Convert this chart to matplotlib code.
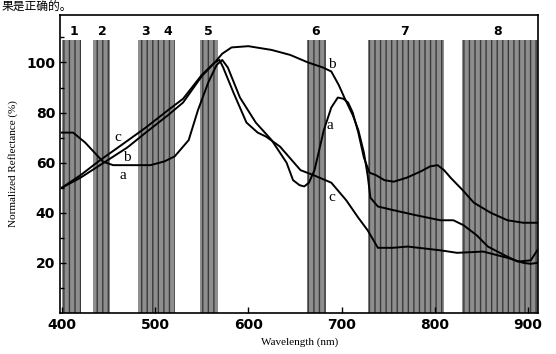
import matplotlib
matplotlib.use("Agg")
import matplotlib.pyplot as plt

# Curve data (wavelength nm, normalized reflectance %)
a_x = [400, 412, 425, 444, 455, 470, 495, 510, 521, 536, 546, 557, 566, 572, 578, 591, 608, 625, 641, 648, 655, 660, 665, 671, 681, 689, 696, 702, 707, 712, 718, 724, 730, 737, 746, 756, 770, 785, 795, 803, 810, 817, 830, 842, 860, 878, 895, 910]
a_y = [72, 72, 68, 60.4, 59, 59, 59, 60.5, 62.5, 69, 81, 92, 99, 101, 98, 86, 76, 69, 60, 53, 51, 50.5, 52, 57, 73, 82, 86, 85.5, 84, 80, 72, 62, 56, 55, 53, 52.4, 54, 56.5, 58.5, 59, 57, 54, 49, 44, 40, 37, 36, 36]
b_x = [400, 420, 445, 470, 490, 514, 530, 550, 564, 572, 582, 600, 625, 645, 664, 680, 689, 697, 703, 712, 718, 724, 728, 731, 739, 756, 780, 806, 820, 831, 845, 857, 875, 889, 903, 910]
b_y = [50, 54, 60, 66, 72, 79, 84, 94.5, 100, 103.5, 106, 106.5, 105, 103, 100, 98, 96.4, 91, 86, 79, 73, 64, 55, 46, 42.5, 41, 39, 37, 37, 35, 31, 26.5, 23, 20.5, 21, 25]
c_x = [400, 420, 441, 460, 490, 514, 530, 550, 564, 569, 573, 584, 598, 610, 619, 634, 656, 670, 689, 705, 718, 728, 739, 755, 771, 806, 824, 852, 878, 895, 903, 910]
c_y = [50, 55, 61, 66, 74, 81, 85.5, 95, 100, 101, 98, 88, 76, 72, 70.4, 66.4, 57, 55, 52, 45, 38, 33, 26, 26, 26.5, 25, 24, 24.5, 22, 20, 19.6, 20]

# Spectral bands (start, end) and labels
band_starts = [400, 433, 482, 503, 548, 663, 728, 829]
band_ends = [421, 452, 503, 521, 567, 683, 810, 911]
band_labels = ["1", "2", "3", "4", "5", "6", "7", "8"]
band_label_x = [413, 443, 490, 514, 557, 672, 768, 867]

x_ticks = [400, 500, 600, 700, 800, 900]
y_ticks = [20, 40, 60, 80, 100]

fig = plt.figure(figsize=(5.56, 3.54), dpi=100)
ax = fig.add_axes([0.108, 0.116, 0.860, 0.842])
ax.set_xlim(398, 911)
ax.set_ylim(0, 119)

band_top = 109
for s, e in zip(band_starts, band_ends):
    ax.fill_between([s, e], 0, band_top, facecolor="#8e8e8e", edgecolor="#3a3a3a",
                    hatch="|||", linewidth=0, zorder=1)
for lx, lab in zip(band_label_x, band_labels):
    ax.text(lx, 112.5, lab, ha="center", va="center", fontsize=9, fontweight="bold",
            family="DejaVu Sans", zorder=3)

for xs, ys in [(a_x, a_y), (b_x, b_y), (c_x, c_y)]:
    ax.plot(xs, ys, color="black", lw=1.4, zorder=2)

serif = "Liberation Serif"
lab_kw = dict(ha="center", va="center", fontsize=11, family=serif, zorder=4)
ax.text(460, 70, "c", **lab_kw)
ax.text(470, 62, "b", **lab_kw)
ax.text(465, 55, "a", **lab_kw)
ax.text(690, 99, "b", **lab_kw)
ax.text(688, 75, "a", **lab_kw)
ax.text(690, 46, "c", **lab_kw)

ax.set_xticks(x_ticks)
ax.set_yticks(y_ticks)
ax.set_yticks([10, 30, 50, 70, 90, 110], minor=True)
ax.tick_params(direction="in", length=4, width=1)
ax.tick_params(which="minor", direction="in", length=3, width=1)
for lbl in ax.get_xticklabels() + ax.get_yticklabels():
    lbl.set_fontweight("bold")
    lbl.set_fontsize(10)
for sp in ax.spines.values():
    sp.set_linewidth(1.2)

ax.set_xlabel("Wavelength (nm)", family=serif, fontsize=8, labelpad=4)
ax.set_ylabel("Normalized Reflectance (%)", family=serif, fontsize=8, labelpad=6)

fig.text(0.002, 0.999, "果是正确的。", family=["Noto Sans CJK SC", "DejaVu Sans"],
         fontsize=8.5, ha="left", va="top")

fig.savefig("out.png", dpi=100)
